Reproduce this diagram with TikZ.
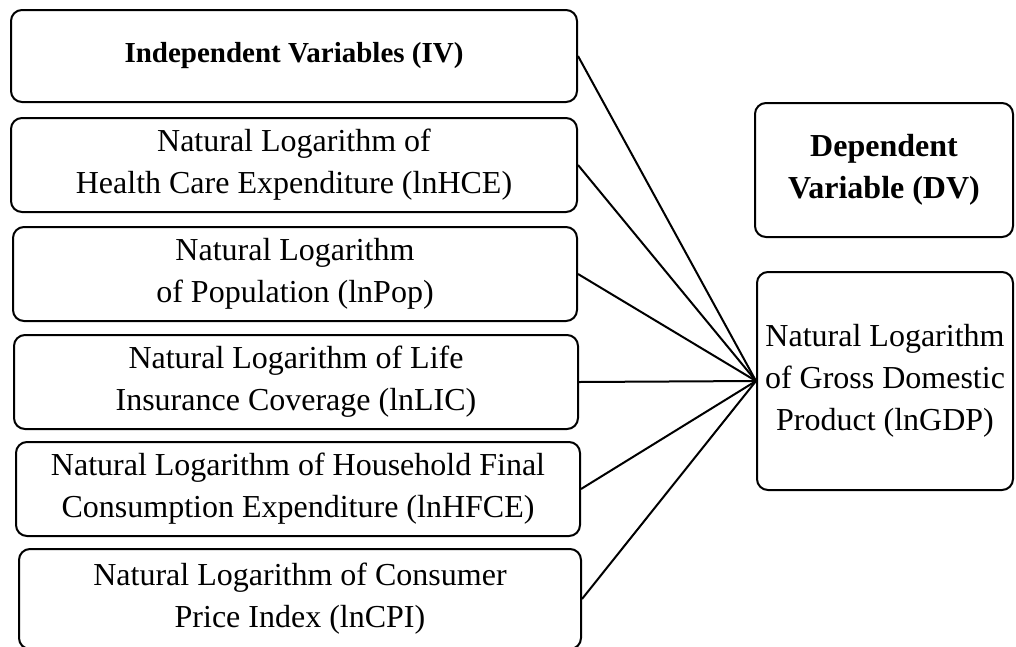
\documentclass[tikz,border=0pt]{standalone}
\usepackage{fontspec}
\setmainfont{Liberation Serif}
\begin{document}
\begin{tikzpicture}[x=1pt,y=-1pt,
  box/.style={draw=black,line width=2pt,rounded corners=11pt,
    inner sep=0pt,align=center,font=\fontsize{32}{42}\selectfont},
  headbox/.style={box,font=\fontsize{29}{42}\selectfont\bfseries},
  dvbox/.style={box,font=\fontsize{32}{42}\selectfont\bfseries},
  link/.style={draw=black,line width=2pt}]
\useasboundingbox (0,0) rectangle (1016,646);
% left column: independent variables
\node[headbox,minimum width=566pt,minimum height=92pt] (iv)   at (294,56)  {Independent Variables (IV)};
\node[box,minimum width=566pt,minimum height=94pt]     (hce)  at (294,165) {Natural Logarithm of\\Health Care Expenditure (lnHCE)};
\node[box,minimum width=564pt,minimum height=94pt]     (pop)  at (295,274) {Natural Logarithm\\of Population (lnPop)};
\node[box,minimum width=564pt,minimum height=94pt]     (lic)  at (296,382) {Natural Logarithm of Life\\Insurance Coverage (lnLIC)};
\node[box,minimum width=564pt,minimum height=94pt]     (hfce) at (298,489) {Natural Logarithm of Household Final\\Consumption Expenditure (lnHFCE)};
\node[box,minimum width=562pt,minimum height=100pt]    (cpi)  at (300,599) {Natural Logarithm of Consumer\\Price Index (lnCPI)};
% right column: dependent variable
\node[dvbox,minimum width=258pt,minimum height=134pt] (dv)  at (884,170) {Dependent\\Variable (DV)};
\node[box,minimum width=256pt,minimum height=218pt]   (gdp) at (885,381) {Natural Logarithm\\of Gross Domestic\\Product (lnGDP)};
% connectors
\foreach \n in {iv,hce,pop,lic,hfce,cpi}
  \draw[link] (\n.east) -- (gdp.west);
\end{tikzpicture}
\end{document}
